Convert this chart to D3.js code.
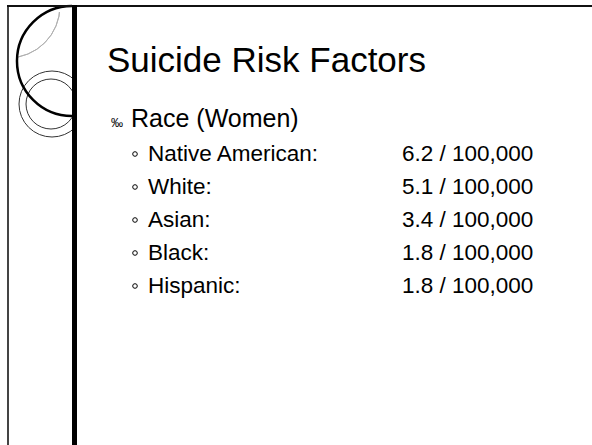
<!DOCTYPE html>
<html>
<head>
<meta http-equiv="content-type" content="text/html; charset=UTF8">
<script src="https://cdn.jsdelivr.net/npm/d3@7/dist/d3.min.js"></script>
<style>
body { margin: 0; background: #fff; }
svg { display: block; font-family: Arial, "Liberation Sans", sans-serif; }
</style>
</head>
<body>
<svg class="slide" width="592" height="445"></svg>
<script>
var title = "Suicide Risk Factors";
var heading = "Race (Women)";
var races = ["Native American:", "White:", "Asian:", "Black:", "Hispanic:"];
var rates = [6.2, 5.1, 3.4, 1.8, 1.8];
var perUnit = "100,000";

var width = 592, height = 445;
var svg = d3.select(".slide");

// left decoration
var deco = svg.append("g");
svg.append("defs").append("clipPath").attr("id", "box")
	.append("rect").attr("x", 8).attr("y", 6).attr("width", 64).attr("height", 200);

deco.append("path")
	.attr("clip-path", "url(#box)")
	.attr("d", d3.arc()({innerRadius: 52, outerRadius: 52, startAngle: Math.PI / 2, endAngle: Math.PI}))
	.attr("transform", "translate(8,6)")
	.attr("fill", "none").attr("stroke", "#b0b0b0").attr("stroke-width", 1);

var rings = deco.append("g").attr("clip-path", "url(#box)");
rings.append("circle").attr("cx", 52).attr("cy", 104).attr("r", 33)
	.attr("fill", "none").attr("stroke", "#333").attr("stroke-width", 1);
rings.append("circle").attr("cx", 51).attr("cy", 104).attr("r", 25)
	.attr("fill", "none").attr("stroke", "#333").attr("stroke-width", 1);

deco.append("path")
	.attr("d", d3.arc()({innerRadius: 55, outerRadius: 55, startAngle: Math.PI, endAngle: 2 * Math.PI}))
	.attr("transform", "translate(72,61)")
	.attr("fill", "none").attr("stroke", "#000").attr("stroke-width", 2.5);

deco.append("line").attr("x1", 8).attr("x2", 8).attr("y1", 6).attr("y2", height)
	.attr("stroke", "#444").attr("stroke-width", 2);
deco.append("line").attr("x1", 7).attr("x2", width).attr("y1", 6).attr("y2", 6)
	.attr("stroke", "#111").attr("stroke-width", 2);
deco.append("line").attr("x1", 74.5).attr("x2", 74.5).attr("y1", 5).attr("y2", height)
	.attr("stroke", "#000").attr("stroke-width", 5);

// text
svg.append("text").attr("x", 107).attr("y", 72)
	.attr("font-size", 35).attr("fill", "#000").text(title);

svg.append("text").attr("x", 111).attr("y", 127)
	.attr("font-size", 12).attr("fill", "#000").text("\u2030");
svg.append("text").attr("x", 131).attr("y", 127)
	.attr("font-size", 25).attr("fill", "#000").text(heading);

var y = d3.scalePoint().domain(races).range([161, 293]);

var rows = svg.selectAll("g.row")
	.data(races)
	.enter()
	.append("g")
	.attr("class", "row")
	.attr("transform", function(d) { return "translate(0," + y(d) + ")"; });

rows.append("circle").attr("cx", 135).attr("cy", -7).attr("r", 2.3)
	.attr("fill", "none").attr("stroke", "#000").attr("stroke-width", 1);

rows.append("text").attr("x", 148).attr("y", 0)
	.attr("font-size", 22.5).attr("fill", "#000")
	.text(function(d) { return d; });

rows.append("text").attr("x", 402).attr("y", 0)
	.attr("font-size", 22.5).attr("fill", "#000")
	.text(function(d, i) { return rates[i].toFixed(1) + " / " + perUnit; });
</script>
</body>
</html>
